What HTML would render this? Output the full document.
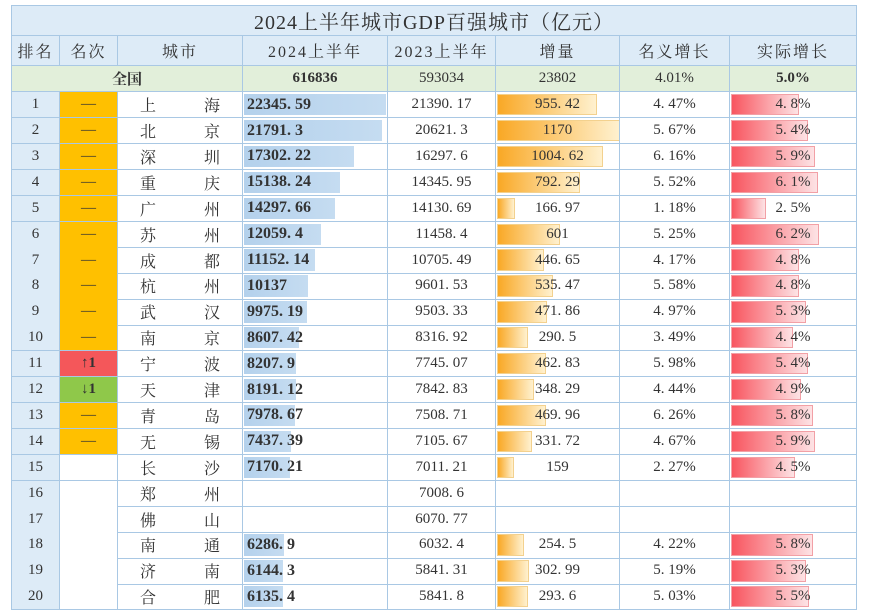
<!DOCTYPE html>
<html><head><meta charset="utf-8">
<style>
body{margin:0;width:869px;height:610px;background:#fff;overflow:hidden;position:relative;font-family:"Liberation Serif","Noto Serif CJK SC",serif;color:#333}
.c{position:absolute;box-sizing:border-box;border-right:1px solid #A9C8E4;border-bottom:1px solid #A9C8E4;display:flex;align-items:center;justify-content:center;font-size:15px;overflow:hidden}
.bar{position:absolute;top:2px;bottom:2px;left:1px}
.t{position:relative;z-index:1}
</style></head><body>
<div id="tbl"></div>
<script>
const ranks=[1,2,3,4,5,6,7,8,9,10,11,12,13,14,15,16,17,18,19,20];
const changes=["—","—","—","—","—","—","—","—","—","—","↑1","↓1","—","—","","","","","",""];
const cities=["上海","北京","深圳","重庆","广州","苏州","成都","杭州","武汉","南京","宁波","天津","青岛","无锡","长沙","郑州","佛山","南通","济南","合肥"];
const gdp2024=["22345.59","21791.3","17302.22","15138.24","14297.66","12059.4","11152.14","10137","9975.19","8607.42","8207.9","8191.12","7978.67","7437.39","7170.21","","","6286.9","6144.3","6135.4"];
const gdp2023=["21390.17","20621.3","16297.6","14345.95","14130.69","11458.4","10705.49","9601.53","9503.33","8316.92","7745.07","7842.83","7508.71","7105.67","7011.21","7008.6","6070.77","6032.4","5841.31","5841.8"];
const increase=["955.42","1170","1004.62","792.29","166.97","601","446.65","535.47","471.86","290.5","462.83","348.29","469.96","331.72","159","","","254.5","302.99","293.6"];
const nominal=["4.47%","5.67%","6.16%","5.52%","1.18%","5.25%","4.17%","5.58%","4.97%","3.49%","5.98%","4.44%","6.26%","4.67%","2.27%","","","4.22%","5.19%","5.03%"];
const real=["4.8","5.4","5.9","6.1","2.5","6.2","4.8","4.8","5.3","4.4","5.4","4.9","5.8","5.9","4.5","","","5.8","5.3","5.5"];
const headers=["排名","名次","城市","2024上半年","2023上半年","增量","名义增长","实际增长"];
const national=["全国","616836","593034","23802","4.01%","5.0%"];

const X=[12,60,118,243,388,496,620,730,857];
const T=document.getElementById('tbl');
function cell(x,y,w,h,txt,name,bg){
  const d=document.createElement('div');d.className='c';
  d.style.left=x+'px';d.style.top=y+'px';d.style.width=w+'px';d.style.height=h+'px';
  if(bg)d.style.background=bg;
  
  
  const s=document.createElement('span');s.className='t';s.textContent=txt;d.appendChild(s);
  T.appendChild(d);return d;
}
// outer left/top border
const ob=document.createElement('div');ob.style.cssText='position:absolute;left:11px;top:5px;width:846px;height:605px;border-left:1px solid #A9C8E4;border-top:1px solid #A9C8E4;box-sizing:border-box';


T.appendChild(ob);
const tt=cell(12,6,845,30,"2024上半年城市GDP百强城市（亿元）","table-title","#DDEBF7");tt.style.fontSize='20px';tt.style.letterSpacing='1px';
headers.forEach((h,i)=>{const c=cell(X[i],36,X[i+1]-X[i],30,h,'header-'+i,'#DDEBF7');c.style.fontSize='16px';c.style.letterSpacing='2px';});
let n=cell(12,66,231,26,national[0],'national-label','#E2EFDA');n.style.fontWeight='bold';
for(let i=1;i<6;i++){const c=cell(X[i+2],66,X[i+3]-X[i+2],26,national[i],'national-value-'+i,'#E2EFDA');if(i==1||i==5)c.style.fontWeight='bold';}
const RH=25.9, Y0=92;
const gmax=22345.59, imax=1170, rmax=6.2;
ranks.forEach((r,k)=>{
  const y=Y0+k*RH,h=RH+0.5;
  cell(X[0],y,X[1]-X[0],h,String(r),'rank-cell','#DDEBF7');
  let bg='#fff';if(changes[k]==='—')bg='#FFC000';if(changes[k]==='↑1')bg='#F4575A';if(changes[k]==='↓1')bg='#8FC84A';
  const ch=cell(X[1],y,X[2]-X[1],h,changes[k],'change-cell',bg);if(changes[k]!=='—')ch.style.fontWeight='bold';
  const cc=cell(X[2],y,X[3]-X[2],h,cities[k].split('').join('\u3000\u3000\u3000'),'city-cell');cc.style.fontSize='16px';
  const g=cell(X[3],y,X[4]-X[3],h,gdp2024[k]?gdp2024[k].replace('.','. '):'','gdp2024-cell');
  g.style.justifyContent='flex-start';g.style.paddingLeft='4px';g.style.fontWeight='bold';g.style.fontSize='16px';
  if(gdp2024[k]){const b=document.createElement('div');b.className='bar';b.style.width=(parseFloat(gdp2024[k])/gmax*142)+'px';b.style.background='linear-gradient(90deg,#B4D1EC,#C5DCF1)';
    
    
    g.appendChild(b);}
  cell(X[4],y,X[5]-X[4],h,gdp2023[k].replace('.','. '),'gdp2023-cell');
  const ic=cell(X[5],y,X[6]-X[5],h,increase[k].replace('.','. '),'increase-cell');
  if(increase[k]){const b=document.createElement('div');b.className='bar';b.style.width=(parseFloat(increase[k])/imax*123)+'px';b.style.background='linear-gradient(90deg,#F9A825,#FFF1CF)';b.style.border='1px solid #F3D18E';b.style.boxSizing='border-box';
    
    
    ic.appendChild(b);}
  cell(X[6],y,X[7]-X[6],h,nominal[k].replace('.','. '),'nominal-cell');
  const rc=cell(X[7],y,X[8]-X[7],h,real[k]?real[k].replace('.','. ')+'%':'','real-cell');
  if(real[k]){const b=document.createElement('div');b.className='bar';b.style.width=(parseFloat(real[k])/rmax*88)+'px';b.style.background='linear-gradient(90deg,#F8555F,#FDE3E5)';b.style.border='1px solid #F2A0A6';b.style.boxSizing='border-box';
    
    
    rc.appendChild(b);}
});
</script>
</body></html>
